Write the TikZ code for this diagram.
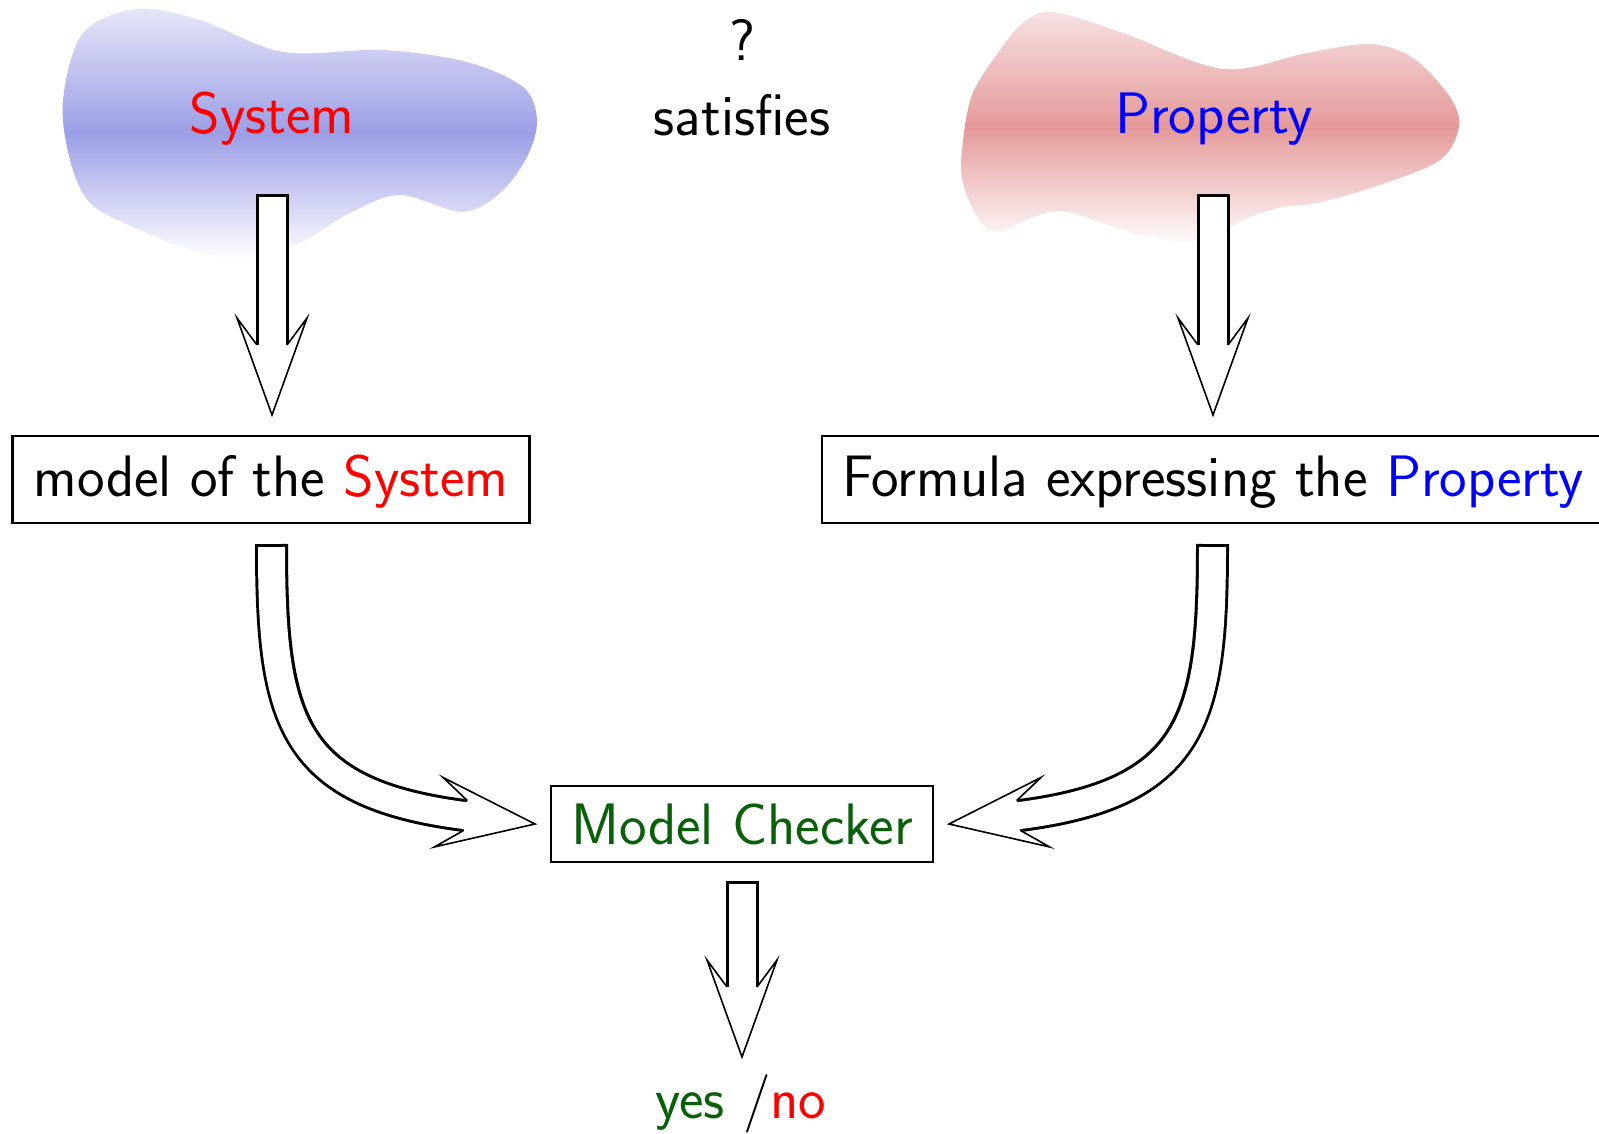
\documentclass[tikz,border=0pt]{standalone}
\usetikzlibrary{calc}
\definecolor{blobblue}{RGB}{155,158,230}
\definecolor{blobbluetop}{RGB}{230,230,248}
\definecolor{blobred}{RGB}{229,153,153}
\definecolor{blobredtop}{RGB}{246,226,226}
\definecolor{mcgreen}{RGB}{10,95,10}
\newcommand{\hollowhead}[2]{%
  \begin{scope}[shift={(#1)},rotate=#2]
    \fill[white] (0,0) -- (-97,35) -- (-70,15) -- (-70,-15) -- (-97,-35) -- cycle;
    \draw[headline] (-70,15) -- (-97,35) -- (0,0) -- (-97,-35) -- (-70,-15);
  \end{scope}}
\newcommand{\hollowshaft}[1]{%
  \draw[line width=33pt,black] #1;
  \draw[line width=27pt,white,shorten <=3pt] #1;}
\begin{document}
\begin{tikzpicture}[x=1pt,y=-1pt,
  bigfont/.style={font=\sffamily\fontsize{58.5}{66}\selectfont},
  txt/.style={bigfont, inner sep=0pt},
  box/.style={draw, line width=2.7pt, bigfont,
    text height=44pt, text depth=10pt, inner ysep=16.5pt, inner xsep=21pt},
  mcbox/.style={draw, line width=2pt, bigfont,
    text height=44pt, text depth=4pt, inner ysep=14pt, inner xsep=20pt},
  headline/.style={line width=1.6pt, line join=miter}]
\useasboundingbox (0,0) rectangle (1599,1133);
% blobs
\shade[top color=blobbluetop, bottom color=white, middle color=blobblue]
  plot[smooth cycle, tension=0.55] coordinates {
  (63,100) (83,33) (137,9) (200,20) (283,52) (383,50) (467,62) (523,87)
  (537,120) (527,157) (500,193) (462,212) (400,195) (350,213)
  (300,243) (250,258) (200,253) (133,227) (90,203) (70,160)};
\shade[top color=blobredtop, bottom color=white!95!blobred, middle color=blobred]
  plot[smooth cycle, tension=0.55] coordinates {
  (962,150) (972,95) (1000,50) (1023,23) (1053,12) (1123,33) (1223,69)
  (1307,53) (1370,44) (1413,58) (1450,97) (1459,127) (1440,160)
  (1380,185) (1317,203) (1283,207) (1250,217) (1217,233) (1183,242)
  (1133,233) (1067,212) (1033,217) (997,232) (978,218) (963,183)};
% texts
\node[txt, anchor=base, text=red] (sys) at (272,133) {System};
\node[txt, anchor=base] (q) at (742,60) {?};
\node[txt, anchor=base] (sat) at (742,135) {satisfies};
\node[txt, anchor=base, text=blue] (prop) at (1214,133) {Property};
\node[box, anchor=base] (model) at (271,496.5) {model of the \textcolor{red}{System}};
\node[box, inner xsep=20pt, anchor=base] (formula) at (1213,496.5) {Formula expressing the \textcolor{blue}{Property}};
\node[mcbox, anchor=base] (mc) at (742,844) {\textcolor{mcgreen}{Model Checker}};
\node[txt, anchor=base] (res) at (741,1118) {\textcolor{mcgreen}{yes} /\textcolor{red}{no}};
% arrow coordinates
\coordinate (a1s) at (272,194);   \coordinate (a1n) at (272,347);   \coordinate (a1t) at (272,415);
\coordinate (a2s) at (1213,194);  \coordinate (a2n) at (1213,347);  \coordinate (a2t) at (1213,415);
\coordinate (c1s) at (271.5,544); \coordinate (c1n) at (468,816);   \coordinate (c1t) at (535,824);
\coordinate (c2s) at (1212.5,544);\coordinate (c2n) at (1016,816);  \coordinate (c2t) at (949,824);
\coordinate (a3s) at (742,881);   \coordinate (a3n) at (742,989);   \coordinate (a3t) at (742,1057);
% arrows
\hollowshaft{(a1s) -- (a1n)}
\hollowhead{a1t}{-90}
\hollowshaft{(a2s) -- (a2n)}
\hollowhead{a2t}{-90}
\hollowshaft{(c1s) .. controls (271.5,720) and (290,794) .. (c1n)}
\hollowhead{c1t}{-7}
\hollowshaft{(c2s) .. controls (1212.5,720) and (1194,794) .. (c2n)}
\hollowhead{c2t}{187}
\hollowshaft{(a3s) -- (a3n)}
\hollowhead{a3t}{-90}
\end{tikzpicture}
\end{document}
